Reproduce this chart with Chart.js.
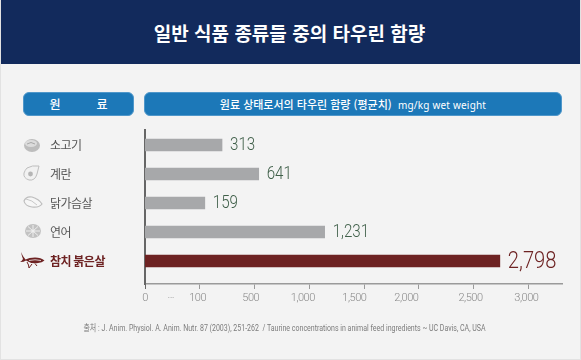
<!DOCTYPE html>
<html lang="ko">
<head>
<meta charset="utf-8">
<script src="https://cdn.jsdelivr.net/npm/chart.js@4"></script>
<style>
html,body{margin:0;padding:0;background:#fff}
#page{position:relative;width:581px;height:360px;overflow:hidden;background:#f3f3f3;box-sizing:border-box;border:1px solid #e2e2e2;border-top:0;font-family:"Noto Sans CJK KR",sans-serif}
#head{position:absolute;left:-1px;top:0;width:579px;height:64px;background:#122a5c;color:#fff;text-align:center;font-size:19px;font-weight:700;line-height:65px;box-shadow:2px 0 0 #122a5c}
.box{position:absolute;top:92px;height:24px;box-sizing:border-box;background:#1c78b8;border:1px solid #4f97ca;border-radius:6px;color:#fff;font-size:11px;font-weight:500;line-height:22px;text-align:center}
.box small{font-size:10px;font-family:"Noto Sans",sans-serif;font-weight:400;letter-spacing:.2px}
#foot{position:absolute;left:-7px;width:581px;top:320px;text-align:center;color:#7c7c7c;font:400 9px/16px Roboto,"Noto Sans CJK KR",sans-serif;transform:scaleX(.78);white-space:nowrap}
#wrap{position:absolute;left:-1px;top:0;width:581px;height:360px}
svg.ic{position:absolute}
</style>
</head>
<body>
<div id="page">
  <div id="head">일반 식품 종류들 중의 타우린 함량</div>
  <div class="box" style="left:22px;width:111px;font-size:12px">원&emsp;&emsp;&emsp;료</div>
  <div class="box" style="left:143px;width:418px">원료 상태로서의 타우린 함량 (평균치) &nbsp;<small>mg/kg wet weight</small></div>
  <div id="wrap"><canvas id="c" width="581" height="360"></canvas></div>
  <svg class="ic" style="left:21px;top:137px" width="20" height="16" viewBox="0 0 20 16"><ellipse cx="10" cy="8.5" rx="8" ry="6.5" fill="#bdbdbd"/><ellipse cx="9" cy="6.5" rx="6" ry="3.4" fill="#dcdcdc"/><path d="M5 7q4-3 8 0" stroke="#a8a8a8" fill="none"/></svg>
  <svg class="ic" style="left:22px;top:164px" width="18" height="18" viewBox="0 0 18 18"><path d="M4 4Q9 1 16 2Q15 6 14 10Q12 17 6 16Q0 14 1 9Q2 6 4 4Z" fill="#f1f1f1" stroke="#bdbdbd"/><circle cx="7.5" cy="10" r="2.4" fill="#b5b5b5"/></svg>
  <svg class="ic" style="left:22px;top:195px" width="20" height="14" viewBox="0 0 20 14"><path d="M1 6Q3 1 9 2Q16 4 19 9Q16 13 9 12Q2 11 1 6Z" fill="#f6f6f6" stroke="#bdbdbd" stroke-width="1.2"/><path d="M3 4Q9 5 14 10" stroke="#c8c8c8" fill="none"/></svg>
  <svg class="ic" style="left:23px;top:223px" width="18" height="16" viewBox="0 0 18 16"><ellipse cx="9" cy="8" rx="8" ry="7" fill="#c2c2c2"/><g stroke="#eee" stroke-width="1"><path d="M2 8H16M9 2V14M4 3.5L14 12.5M14 3.5L4 12.5"/></g><circle cx="9" cy="8" r="1.6" fill="#eee"/></svg>
  <svg class="ic" style="left:19px;top:251px" width="26" height="20" viewBox="0 0 26 20"><path d="M1 1Q2 6 3 8Q2 10 0 11Q4 11 6 9.5Q11 13 18 12Q22 11.500 24.500 9.500Q21 6.500 15 6.500Q9 6.500 5.500 8.500Q3 6 1 1Z" fill="#6d2222"/><path d="M7 11Q9 14 9 17L12 13M15 12.500L17 15" stroke="#6d2222" fill="none"/><path d="M9 9.500Q15 8 21 9.500" stroke="#f3f3f3" stroke-width=".8" fill="none"/></svg>
  <div id="foot">출처 : J. Anim. Physiol. A. Anim. Nutr. 87 (2003), 251-262 &nbsp;/ Taurine concentrations in animal feed ingredients ~ UC Davis, CA, USA</div>
</div>
<script>
const categories = ['소고기', '계란', '닭가슴살', '연어', '참치 붉은살'];
const taurine = [313, 641, 159, 1231, 2798];
const tickLabels = ['0', '···', '100', '500', '1,000', '1,500', '2,000', '2,500', '3,000'];
// Tick marks are evenly spaced slots; the printed labels sit slightly off them in the original.
const markSlots = [0, 1, 2, 3, 4, 5, 6, 7];
const labelSlots = [0, 0.47, 0.96, 1.93, 2.88, 3.82, 4.77, 5.94, 6.96];

const GREY = '#a7a8aa', RED = '#6d2222', GREEN = '#40604a';
// The printed axis is not to scale (0, 100, 500, 1,000 are evenly spaced), so the bars
// use their own linear value scale and the visible axis is a slot scale with printed labels.
const BAR_MIN = -376, BAR_MAX = 3354;

const tightText = {
  id: 'tightText',
  beforeDraw(chart) { chart.ctx.letterSpacing = '-0.5px'; },
  afterDatasetsDraw(chart) {
    const ctx = chart.ctx;
    chart.getDatasetMeta(0).data.forEach((bar, i) => {
      const last = i === taurine.length - 1;
      ctx.save();
      ctx.letterSpacing = '0px';
      ctx.font = '300 ' + (last ? 24 : 18) + 'px Roboto';
      ctx.fillStyle = last ? RED : GREEN;
      ctx.textBaseline = 'middle';
      ctx.textAlign = 'left';
      ctx.translate(bar.x + 8, bar.y + 1);
      ctx.scale(0.84, 1);
      ctx.fillText(taurine[i].toLocaleString('en-US'), 0, 0);
      ctx.restore();
    });
  }
};

new Chart(document.getElementById('c'), {
  type: 'bar',
  data: {
    datasets: [{
      data: taurine.map((v, i) => ({ x: v, y: i })),
      base: BAR_MIN,
      xAxisID: 'x',
      yAxisID: 'y',
      barThickness: 12,
      backgroundColor: taurine.map((v, i) => i === taurine.length - 1 ? RED : GREY),
      borderWidth: 0
    }]
  },
  plugins: [tightText],
  options: {
    indexAxis: 'y',
    responsive: false,
    animation: false,
    layout: { padding: { left: 50, right: 19, top: 130, bottom: 0 } },
    plugins: { legend: { display: false }, tooltip: { enabled: false } },
    scales: {
      x: { type: 'linear', display: false, min: BAR_MIN, max: BAR_MAX },
      slots: {
        type: 'linear', axis: 'x', position: 'bottom', min: 0, max: 7.61,
        afterBuildTicks: s => { s.ticks = markSlots.concat(labelSlots).map(v => ({ value: v })); },
        afterFit: s => { s.height = 76; },
        border: { color: '#9a9a9a', width: 1.5 },
        grid: {
          drawOnChartArea: false, drawTicks: true, tickLength: 5, tickWidth: 1,
          tickColor: c => c.index >= markSlots.length ? 'rgba(0,0,0,0)' : (c.index === 0 ? '#666' : '#9a9a9a')
        },
        ticks: {
          autoSkip: false, maxRotation: 0, padding: 3, color: '#8a8a8a',
          font: { family: 'Roboto', size: 11, weight: '300' },
          callback: (v, i) => i >= markSlots.length ? tickLabels[i - markSlots.length] : '',
          includeBounds: false
        }
      },
      y: {
        type: 'linear', reverse: true, min: -0.517, max: 4.793, offset: false,
        afterBuildTicks: s => { s.ticks = categories.map((c, i) => ({ value: i })); },
        afterFit: s => { s.width = 95; },
        border: { color: '#666', width: 2 },
        grid: { display: false, offset: false },
        ticks: {
          autoSkip: false, crossAlign: 'far', padding: 0,
          callback: (v, i) => categories[i],
          color: c => c.index === categories.length - 1 ? RED : '#555',
          font: c => ({
            family: '"Noto Sans CJK KR"', size: 12,
            weight: c.index === categories.length - 1 ? '700' : '400'
          })
        }
      }
    }
  }
});
</script>
</body>
</html>
